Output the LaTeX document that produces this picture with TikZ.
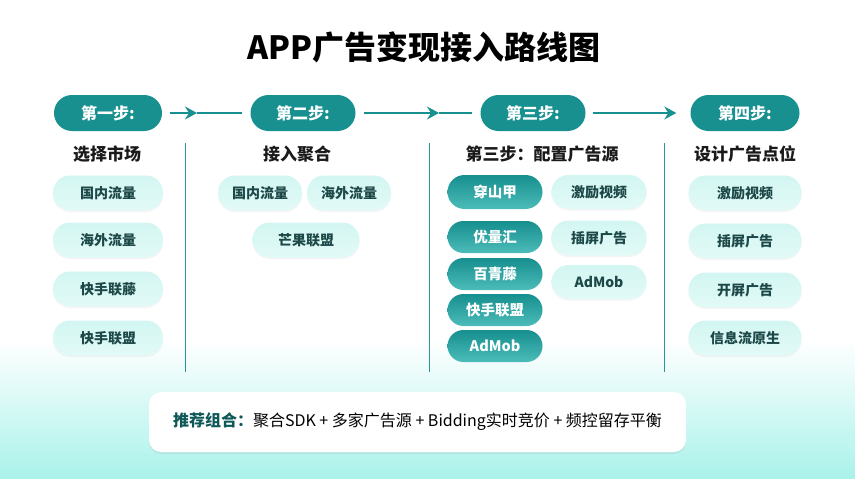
\documentclass[tikz,border=0pt]{standalone}
\usepackage{fontspec}
\setmainfont{Noto Sans CJK SC}
\usetikzlibrary{arrows.meta,shadows}
\definecolor{tealD}{HTML}{17908F}
\definecolor{tealTop}{HTML}{168F8E}
\definecolor{tealBot}{HTML}{4CBCB9}
\definecolor{lightP}{HTML}{D3F6F2}
\definecolor{lightPb}{HTML}{E2FAF7}
\definecolor{pillTxt}{HTML}{1D4848}
\definecolor{lineT}{HTML}{2A9696}
\definecolor{bgCyan}{HTML}{A9F2EA}
\definecolor{headT}{HTML}{1A1A1A}
\definecolor{recT}{HTML}{0F5858}
\tikzset{
  steppill/.style={draw=none, fill=tealD, rounded corners=18pt, minimum width=107pt, minimum height=36pt, inner sep=0pt, text=white, font=\fontsize{16}{18}\selectfont\bfseries},
  lpill/.style={draw=none, top color=lightP, bottom color=lightPb, rounded corners=17pt, minimum height=35pt, inner sep=0pt, text=pillTxt, font=\fontsize{14}{16}\selectfont\bfseries, drop shadow={opacity=0.08, shadow xshift=0pt, shadow yshift=-1.5pt}},
  dpill/.style={draw=none, top color=tealTop, bottom color=tealBot, rounded corners=16pt, minimum width=95pt, minimum height=32pt, inner sep=0pt, text=white, font=\fontsize{14.5}{16}\selectfont\bfseries},
  heading/.style={text=headT, font=\fontsize{17}{20}\selectfont\bfseries, inner sep=0pt},
  conn/.style={draw=tealD, line width=1.2pt},
  sep/.style={draw=lineT, line width=0.9pt},
  arrowtip/.style={-{Stealth[length=12pt,width=13pt,inset=4pt]}}
}
\begin{document}
\begin{tikzpicture}[x=1pt,y=-1pt]
\useasboundingbox (0,0) rectangle (855,479);
\fill[white] (0,0) rectangle (855,479);
\shade[top color=white, bottom color=bgCyan] (0,340) rectangle (855,479);

% title
\node[font=\fontsize{32}{36}\selectfont\bfseries, text=black, inner sep=0pt] (title) at (424,47) {APP广告变现接入路线图};

% step pills
\node[steppill, minimum width=108pt] (s1) at (108,113) {第一步:};
\node[steppill, minimum width=105pt] (s2) at (303,113) {第二步:};
\node[steppill, minimum width=105pt] (s3) at (533,113) {第三步:};
\node[steppill, minimum width=109pt] (s4) at (745,113) {第四步:};

% connectors
\coordinate (a1) at (197,113);
\coordinate (a2) at (439,113);
\draw[conn, arrowtip] ([xshift=8pt]s1.east) -- (a1);
\draw[conn] (a1) -- ([xshift=-8pt]s2.west);
\draw[conn, arrowtip] ([xshift=8pt]s2.east) -- (a2);
\draw[conn] (a2) -- ([xshift=-8pt]s3.west);
\draw[conn, arrowtip] ([xshift=7pt]s3.east) -- ([xshift=-14pt]s4.west);

% separators
\draw[sep] (185,143) -- (185,372);
\draw[sep] (429,143) -- (429,372);
\draw[sep] (664,143) -- (664,372);

% headings
\node[heading] (h1) at (107,154) {选择市场};
\node[heading] (h2) at (297,154) {接入聚合};
\node[heading] (h3) at (542,154) {第三步：配置广告源};
\node[heading] (h4) at (745,154) {设计广告点位};

% column 1
\node[lpill, minimum width=110pt] (c1a) at (108,193) {国内流量};
\node[lpill, minimum width=110pt] (c1b) at (108,240) {海外流量};
\node[lpill, minimum width=110pt] (c1c) at (108,289) {快手联藤};
\node[lpill, minimum width=110pt] (c1d) at (108,338) {快手联盟};

% column 2
\node[lpill, minimum width=84pt] (c2a) at (260,193) {国内流量};
\node[lpill, minimum width=84pt] (c2b) at (349,193) {海外流量};
\node[lpill, minimum width=107pt] (c2c) at (306,240) {芒果联盟};

% column 3 dark
\node[dpill, minimum height=34pt, rounded corners=17pt] (d1) at (495,192) {穿山甲};
\node[dpill] (d2) at (495,237) {优量汇};
\node[dpill] (d3) at (495,274) {百青藤};
\node[dpill] (d4) at (495,310) {快手联盟};
\node[dpill] (d5) at (495,346) {AdMob};

% column 3 light
\node[lpill, minimum width=95pt, minimum height=34pt] (e1) at (599,192) {激励视频};
\node[lpill, minimum width=95pt, minimum height=35pt] (e2) at (599,238) {插屏广告};
\node[lpill, minimum width=95pt, minimum height=34pt] (e3) at (599,282) {AdMob};

% column 4
\node[lpill, minimum width=113pt] (f1) at (745,193) {激励视频};
\node[lpill, minimum width=113pt] (f2) at (745,241) {插屏广告};
\node[lpill, minimum width=113pt] (f3) at (745,290) {开屏广告};
\node[lpill, minimum width=113pt] (f4) at (745,338) {信息流原生};

% recommendation box
\node[draw=none, fill=white, rounded corners=12pt, minimum width=537pt, minimum height=60pt, inner sep=0pt,
      drop shadow={opacity=0.12, shadow xshift=0pt, shadow yshift=-2pt},
      font=\fontsize{16}{18}\selectfont, text=black] (rec) at (417.5,422)
  {{\color{recT}\bfseries 推荐组合：}聚合SDK + 多家广告源 + Bidding实时竞价 + 频控留存平衡};
\end{tikzpicture}
\end{document}
